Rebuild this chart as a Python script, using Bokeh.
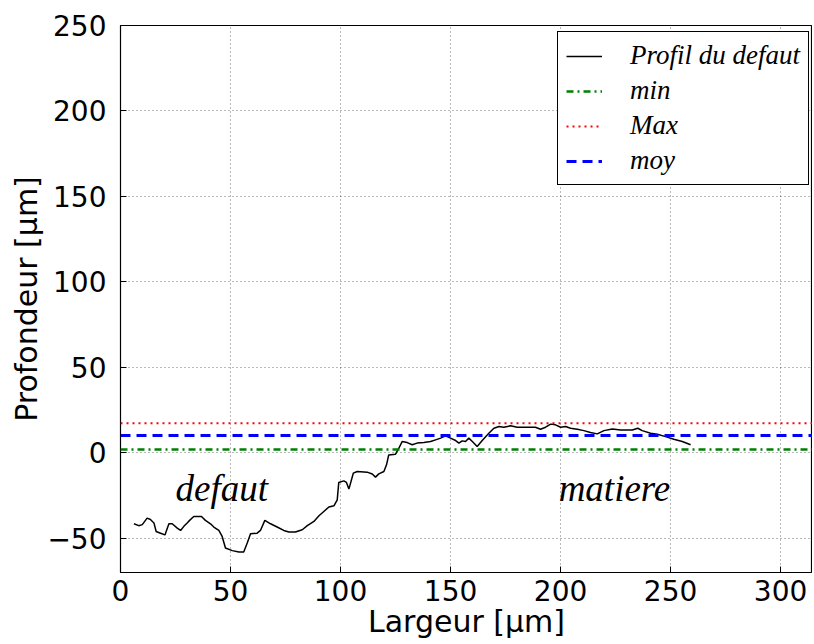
from bokeh.plotting import figure
from bokeh.models import ColumnDataSource, Legend, LegendItem, SingleIntervalTicker, Range1d
from bokeh.core.properties import value
from bokeh.embed import file_html
from bokeh.resources import INLINE

# Profile of the defect (Largeur [um], Profondeur [um])
largeur = [6.1, 8.3, 9.9, 12.1, 13.6, 15.2, 16.2, 18.2, 20.2, 22.0,
           23.5, 25.8, 27.3, 28.8, 30.3, 31.4, 33.3, 36.8, 38.6, 40.9,
           42.4, 44.7, 46.2, 47.7, 50.8, 53.8, 56.0, 57.6, 59.1, 62.1,
           63.6, 65.6, 68.2, 71.2, 74.2, 76.5, 79.5, 82.6, 84.9, 87.9,
           90.2, 92.4, 94.7, 97.0, 98.5, 99.2, 101.5, 102.7, 103.8, 105.8,
           107.6, 112.1, 114.4, 115.9, 117.4, 119.7, 120.9, 121.9, 125.0, 126.5,
           128.0, 130.3, 132.6, 134.8, 137.9, 140.9, 143.2, 145.5, 147.7, 150.0,
           152.3, 153.8, 155.3, 156.8, 158.3, 159.9, 162.1, 164.4, 167.4, 169.7,
           172.0, 174.2, 177.3, 180.3, 184.1, 188.6, 190.9, 193.2, 195.5, 197.7,
           200.0, 202.3, 204.5, 207.6, 210.6, 213.6, 216.7, 219.7, 223.5, 227.3,
           232.6, 235.1, 237.1, 240.9, 244.0, 247.7, 251.5, 255.3, 259.1]
profondeur = [-41.5, -42.6, -42.0, -38.2, -39.0, -41.0, -46.0, -47.0, -48.0, -41.5,
              -41.5, -44.0, -45.4, -43.0, -41.0, -39.5, -37.2, -37.2, -39.5, -41.5,
              -43.4, -45.4, -48.9, -55.7, -57.2, -58.0, -58.0, -52.7, -47.3, -47.0,
              -45.4, -39.5, -41.5, -43.4, -45.4, -46.3, -46.3, -45.0, -42.6, -40.1,
              -36.8, -34.3, -31.7, -31.0, -27.5, -17.3, -16.4, -17.3, -21.2, -11.9,
              -10.9, -11.3, -12.4, -14.2, -12.3, -10.9, -7.0, -1.2, -0.8, 2.7,
              6.6, 6.0, 4.7, 5.7, 6.0, 6.6, 7.6, 8.6, 9.9, 8.6,
              7.2, 5.7, 7.0, 6.6, 8.6, 6.6, 3.7, 7.2, 11.5, 14.4,
              15.4, 15.0, 15.8, 15.0, 15.0, 15.0, 13.8, 15.0, 16.8, 16.4,
              15.0, 15.4, 14.4, 13.8, 13.0, 11.9, 11.1, 13.0, 14.0, 13.4,
              13.4, 14.4, 13.0, 11.5, 10.9, 9.5, 8.0, 6.6, 4.7]

val_min = 2.0
val_max = 17.3
val_moy = 10.2

x_lim = [0, 314.5]
y_lim = [-70, 250]

annot_text = ["defaut", "matiere"]
annot_x = [46, 224.5]
annot_y = [-21, -21]

FW, FH = 692, 547

p = figure(frame_width=FW, frame_height=FH, output_backend="svg",
           toolbar_location=None,
           x_range=Range1d(*x_lim), y_range=Range1d(*y_lim),
           min_border_left=120, min_border_top=25, min_border_right=0,
           min_border_bottom=10)

p.background_fill_color = "white"
p.border_fill_color = "white"
p.outline_line_color = "black"
p.outline_line_width = 1.2

r_prof = p.line(largeur, profondeur, line_color="black", line_width=1.5)
r_min = p.line(x_lim, [val_min, val_min], line_color="green", line_width=2.5,
               line_dash="7 4 2 4")
r_max = p.line(x_lim, [val_max, val_max], line_color="red", line_width=2,
               line_dash="2 4")
r_moy = p.line(x_lim, [val_moy, val_moy], line_color="blue", line_width=3,
               line_dash="10 6")

src = ColumnDataSource(dict(x=annot_x, y=annot_y, t=annot_text))
p.text(x="x", y="y", text="t", source=src, text_align="center",
       text_baseline="middle", text_font=value("Liberation Serif"),
       text_font_style="italic", text_font_size="37px", text_color="black")

for ax in (p.xaxis, p.yaxis):
    ax.ticker = SingleIntervalTicker(interval=50)
    ax.axis_line_color = None
    ax.major_tick_in = 6
    ax.major_tick_out = 0
    ax.minor_tick_line_color = None
    ax.major_tick_line_color = "black"
    ax.major_label_text_font = "DejaVu Sans"
    ax.major_label_text_font_size = "28px"
    ax.major_label_text_color = "black"
    ax.axis_label_text_font = "DejaVu Sans"
    ax.axis_label_text_font_size = "30px"
    ax.axis_label_text_font_style = "normal"
    ax.axis_label_text_color = "black"

p.xaxis.axis_label = "Largeur [μm]"
p.yaxis.axis_label = "Profondeur [μm]"
p.xaxis.major_label_standoff = 3
p.xaxis.axis_label_standoff = 0
p.yaxis.major_label_standoff = 10
p.yaxis.axis_label_standoff = 0
p.yaxis.major_label_overrides = {-50: "\u221250"}

p.grid.grid_line_color = "black"
p.grid.grid_line_alpha = 0.55
p.grid.grid_line_dash = "1 3"
p.grid.grid_line_width = 1
p.xgrid.ticker = SingleIntervalTicker(interval=50)
p.ygrid.ticker = SingleIntervalTicker(interval=50)

legend = Legend(items=[
    LegendItem(label="Profil du defaut", renderers=[r_prof]),
    LegendItem(label="min", renderers=[r_min]),
    LegendItem(label="Max", renderers=[r_max]),
    LegendItem(label="moy", renderers=[r_moy]),
])
LW, LH = 251, 149
legend.location = (FW - 4 - LW, FH - 11 - LH)
legend.margin = 0
legend.padding = 8
legend.spacing = 4
legend.glyph_width = 36
legend.glyph_height = 26
legend.label_height = 26
legend.label_standoff = 28
legend.label_text_font = "Liberation Serif"
legend.label_text_font_style = "italic"
legend.label_text_font_size = "27px"
legend.label_text_color = "black"
legend.border_line_color = "black"
legend.border_line_width = 1.5
legend.border_line_alpha = 1.0
legend.background_fill_alpha = 1.0
p.add_layout(legend, "center")

open("out.html", "w").write(file_html(p, INLINE))
